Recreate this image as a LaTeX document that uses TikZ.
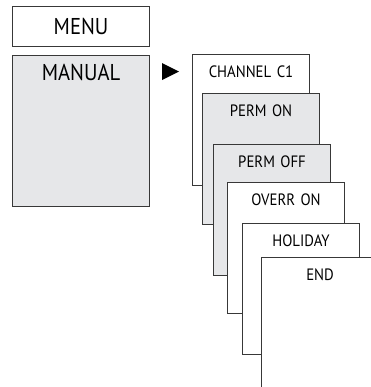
\documentclass[tikz,border=0pt]{standalone}
\usepackage{fontspec}
\setmainfont[FakeStretch=0.9]{PT Sans}
\begin{document}
\begin{tikzpicture}[x=1bp,y=-1bp,
  boxline/.style={draw=black!78,line width=1.1bp,inner sep=0pt,anchor=north west,align=center},
  bigbox/.style={boxline,font=\fontsize{23}{23}\selectfont,text width=137bp},
  menubox/.style={bigbox,fill=white,text height=28bp,text depth=12bp},
  manualbox/.style={bigbox,fill=grayfill,text height=25bp,text depth=126bp},
  stackbox/.style={boxline,font=\fontsize{16.5}{16.5}\selectfont,text width=117bp,text height=23bp,text depth=108bp},
  whitebox/.style={stackbox,fill=white},
  graybox/.style={stackbox,fill=grayfill}]
\definecolor{grayfill}{HTML}{E6E7E9}
\useasboundingbox (0,0) rectangle (371,387);
\clip (0,0) rectangle (371,387);
\node[menubox] (menu) at (12,6) {MENU};
\node[manualbox] (manual) at (12,55) {MANUAL};
\fill[black] (162,63) -- (179,71.5) -- (162,80) -- cycle;
\node[whitebox] (ch) at (192,54) {CHANNEL C1};
\node[graybox] (pon) at (202,93) {PERM ON};
\node[graybox] (poff) at (213,144) {PERM OFF};
\node[whitebox] (ovr) at (227,182) {OVERR ON};
\node[whitebox] (hol) at (242,223) {HOLIDAY};
\node[whitebox] (end) at (261,257) {END};
\end{tikzpicture}
\end{document}
